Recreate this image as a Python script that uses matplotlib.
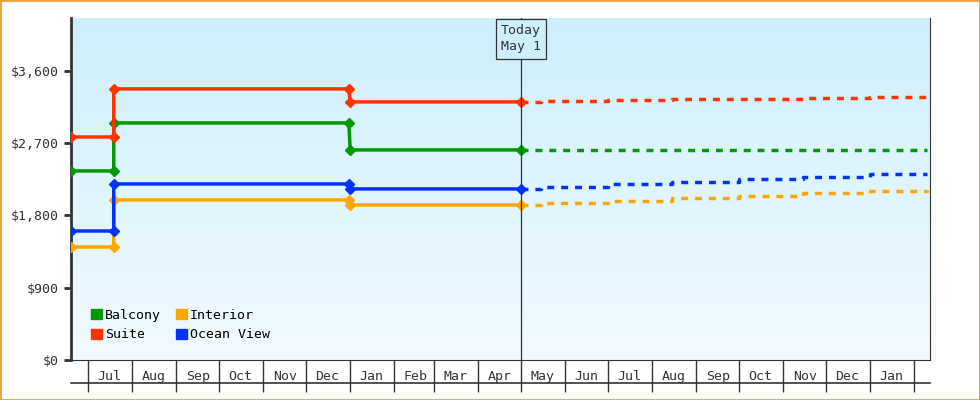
import matplotlib
matplotlib.use("Agg")
import matplotlib.pyplot as plt
import matplotlib.dates as mdates
import numpy as np
import pandas as pd
from matplotlib.lines import Line2D
from matplotlib.patches import Rectangle

plt.rcParams['font.family'] = ['DejaVu Sans Mono']

series_names = ["Balcony", "Suite", "Interior", "Ocean View"]
colors = {"Balcony": "#009900", "Suite": "#ff3300", "Interior": "#ffa500", "Ocean View": "#0033ff"}

hist_dates = ["2024-06-19", "2024-07-19", "2024-07-19", "2024-12-31", "2025-01-01", "2025-05-01"]
hist_vals = {
    "Balcony":    [2355, 2355, 2953, 2953, 2617, 2617],
    "Suite":      [2778, 2778, 3377, 3377, 3215, 3215],
    "Interior":   [1408, 1408, 1994, 1994, 1931, 1931],
    "Ocean View": [1607, 1607, 2193, 2193, 2131, 2131],
}
fc_dates = ["2025-05-01", "2025-05-15", "2025-07-01", "2025-08-15", "2025-10-01", "2025-11-15", "2026-01-01", "2026-02-10"]
fc_vals = {
    "Balcony":    [2617, 2617, 2617, 2617, 2617, 2617, 2617, 2617],
    "Suite":      [3215, 3225, 3235, 3245, 3255, 3262, 3277, 3277],
    "Interior":   [1931, 1955, 1985, 2015, 2045, 2075, 2105, 2118],
    "Ocean View": [2131, 2160, 2190, 2220, 2250, 2285, 2318, 2318],
}
today = "2025-05-01"
yticks = [0, 900, 1800, 2700, 3600]

fig = plt.figure(figsize=(9.8, 4), dpi=100)
fig.patches.append(Rectangle((0, 0), 1, 1, transform=fig.transFigure, fill=False,
                             edgecolor="#f0a040", linewidth=2))
ax = fig.add_axes([71/980, 40/400, 859/980, 342/400])

grad = np.linspace(0, 1, 256).reshape(-1, 1)
from matplotlib.colors import LinearSegmentedColormap
cmap = LinearSegmentedColormap.from_list("g", ["#cdeffc", "#f2faff"])
ax.imshow(grad, cmap=cmap, aspect="auto", extent=[0, 1, 0, 1], transform=ax.transAxes, zorder=0)

hd = pd.to_datetime(hist_dates)
fd = pd.to_datetime(fc_dates)
for name in ["Interior", "Ocean View", "Balcony", "Suite"]:
    c = colors[name]
    ax.plot(hd, hist_vals[name], color=c, lw=2.5, marker="D", ms=5, zorder=3)
    ax.step(fd, fc_vals[name], where="post", color=c, lw=2.5, ls=(0, (2, 2)), zorder=3)

t = pd.to_datetime(today)
ax.axvline(t, color="#333333", lw=0.9, zorder=4)
ax.text(t, 4180, "Today\nMay 1", ha="center", va="top", fontsize=9.5, color="#333333", zorder=5,
        linespacing=1.3,
        bbox=dict(boxstyle="square,pad=0.4", fc="#cdeffc", ec="#333333", lw=0.9))

ax.set_xlim(pd.to_datetime("2024-06-19"), pd.to_datetime("2026-02-12"))
ax.set_ylim(0, 4260)
ax.set_yticks(yticks)
ax.set_yticklabels([f"${v:,}" for v in yticks], fontsize=9.5, color="#333333")
ax.tick_params(axis="y", length=5, width=2, color="#333333")

ax.xaxis.set_major_locator(mdates.MonthLocator())
ax.xaxis.set_major_formatter(plt.NullFormatter())
ax.xaxis.set_minor_locator(mdates.MonthLocator(bymonthday=16))
ax.xaxis.set_minor_formatter(mdates.DateFormatter("%b"))
ax.tick_params(axis="x", which="major", length=23, width=1, color="#333333")
ax.tick_params(axis="x", which="minor", length=0, pad=7, labelsize=9.5, labelcolor="#333333")

for s in ["top"]:
    ax.spines[s].set_visible(False)
ax.spines["left"].set_linewidth(2)
ax.spines["left"].set_color("#333333")
ax.spines["bottom"].set_color("#333333")
ax.spines["right"].set_color("#333333")
ax.spines["right"].set_linewidth(0.8)
fig.add_artist(Line2D([71/980, 930/980], [17/400, 17/400], color="#333333", lw=1.2))

handles = [Rectangle((0, 0), 1, 1, color=colors[n]) for n in series_names]
ax.legend(handles, series_names, ncol=2, loc="lower left", bbox_to_anchor=(0.01, 0.02),
          frameon=False, fontsize=9.5, handlelength=0.8, handleheight=0.8, handletextpad=0.2,
          columnspacing=1.2, labelspacing=0.5)

fig.savefig("out.png", dpi=100)
